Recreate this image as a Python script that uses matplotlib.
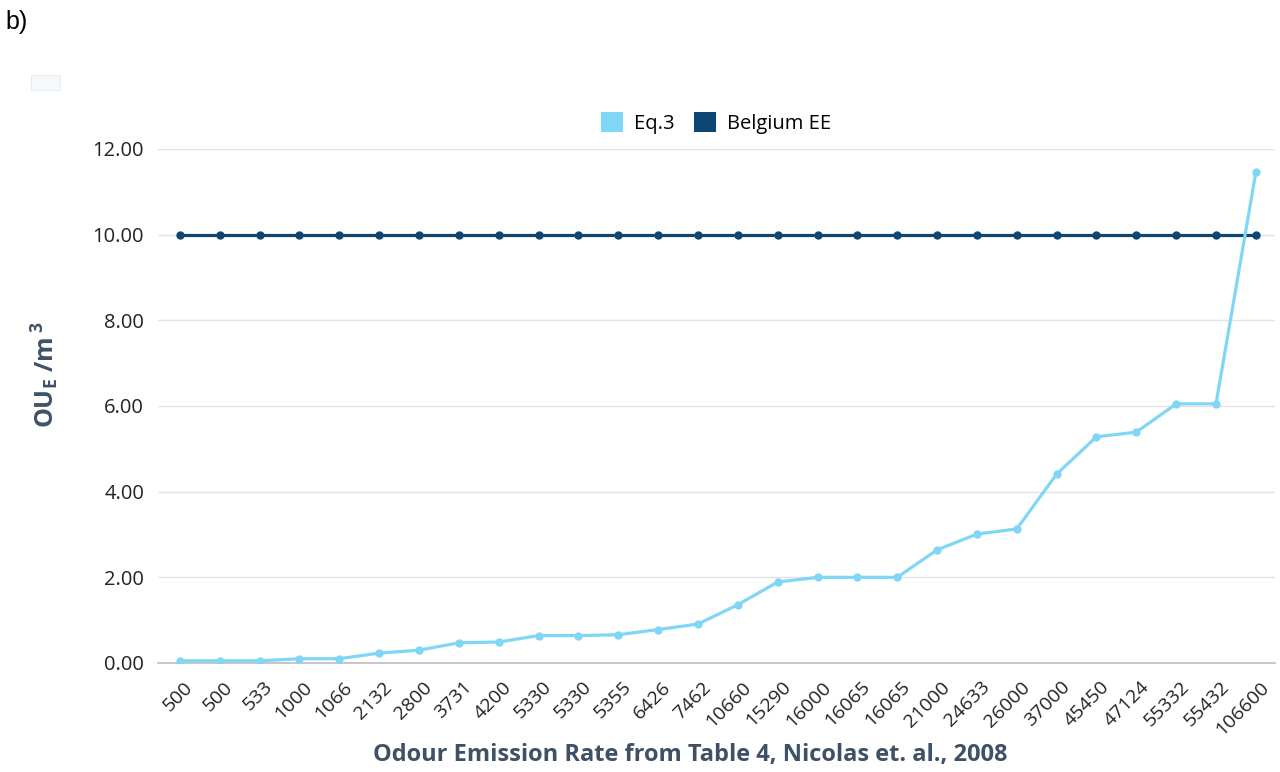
import matplotlib
matplotlib.use("Agg")
import matplotlib.pyplot as plt
import matplotlib.transforms as mtransforms
from matplotlib.patches import Patch, Rectangle

plt.rcParams['font.family'] = ['Open Sans', 'DejaVu Sans']
plt.rcParams['mathtext.fontset'] = 'custom'
plt.rcParams['mathtext.bf'] = 'Open Sans:bold'
plt.rcParams['mathtext.rm'] = 'Open Sans'

# Odour emission rates (Table 4, Nicolas et al., 2008)
emission_rates = ["500", "500", "533", "1000", "1066", "2132", "2800", "3731",
                  "4200", "5330", "5330", "5355", "6426", "7462", "10660",
                  "15290", "16000", "16065", "16065", "21000", "24633",
                  "26000", "37000", "45450", "47124", "55332", "55432", "106600"]

# Odour concentration from Eq.3 (OU_E/m3)
eq3_values = [0.05, 0.05, 0.05, 0.10, 0.10, 0.23, 0.30, 0.47, 0.49, 0.64,
              0.64, 0.66, 0.78, 0.91, 1.36, 1.89, 2.00, 2.00, 2.00, 2.64,
              3.01, 3.13, 4.41, 5.28, 5.39, 6.05, 6.05, 11.46]

# Belgian exposure limit (OU_E/m3)
belgium_values = [10.0] * len(emission_rates)

y_ticks = [0, 2, 4, 6, 8, 10, 12]

eq3_color = '#80d6f5'
belgium_color = '#0d4673'
label_color = '#3f5166'

fig = plt.figure(figsize=(12.8, 7.72), dpi=100)
ax = fig.add_axes([0.1234, 0.1412, 0.8727, 0.6658])

x = list(range(len(emission_rates)))
ax.plot(x, belgium_values, color=belgium_color, lw=2.3, marker='o',
        markersize=5, zorder=3, label='Belgium EE')
ax.plot(x, eq3_values, color=eq3_color, lw=2.3, marker='o',
        markersize=5, zorder=4, label='Eq.3')

ax.set_xlim(-0.55, len(emission_rates) - 1 + 0.48)
ax.set_ylim(0, 12)
ax.set_yticks(y_ticks)
ax.set_yticklabels([f"{v:.2f}" for v in y_ticks], fontsize=14.5, color='#222222')
ax.set_xticks(x)
ax.set_xticklabels(emission_rates, rotation=45, ha='right',
                   rotation_mode='anchor', fontsize=14, color='#222222')
ax.tick_params(axis='both', length=0)
ax.tick_params(axis='y', pad=10)
ax.tick_params(axis='x', pad=0)
shift = mtransforms.ScaledTranslation(0.04, -0.15, fig.dpi_scale_trans)
for lbl in ax.get_xticklabels():
    lbl.set_transform(lbl.get_transform() + shift)

ax.grid(axis='y', color='#e3e3e3', lw=1)
ax.set_axisbelow(True)
for side in ['top', 'right', 'left']:
    ax.spines[side].set_visible(False)
ax.spines['bottom'].set_color('#bdbdbd')
ax.spines['bottom'].set_linewidth(1.2)

fig.text(45 / 1280, 1 - 375 / 772,
         r'$\mathbf{OU}_{\mathbf{E}}\;\mathbf{/m}\,^{\mathbf{3}}$',
         fontsize=18, color=label_color, rotation=90, ha='center', va='center')
fig.text(690 / 1280, 1 - 755 / 772,
         'Odour Emission Rate from Table 4, Nicolas et. al., 2008',
         fontsize=17, fontweight='bold', color=label_color, ha='center', va='center')

handles = [Patch(facecolor=eq3_color, edgecolor='none', label='Eq.3'),
           Patch(facecolor=belgium_color, edgecolor='none', label='Belgium EE')]
fig.legend(handles=handles, loc='center', bbox_to_anchor=(716 / 1280, 1 - 123 / 772),
           ncol=2, frameon=False, fontsize=14.5, handlelength=1.1,
           handleheight=1.1, handletextpad=0.5, columnspacing=1.0)

fig.text(0.004, 0.971, 'b)', fontsize=18, family=['Liberation Sans', 'DejaVu Sans'],
         va='center', ha='left')
fig.patches.append(Rectangle((0.024, 0.884), 0.023, 0.019, transform=fig.transFigure,
                             facecolor='#f6f9fb', edgecolor='#e6ecf1', lw=0.6))

fig.savefig('out.png', dpi=100)
